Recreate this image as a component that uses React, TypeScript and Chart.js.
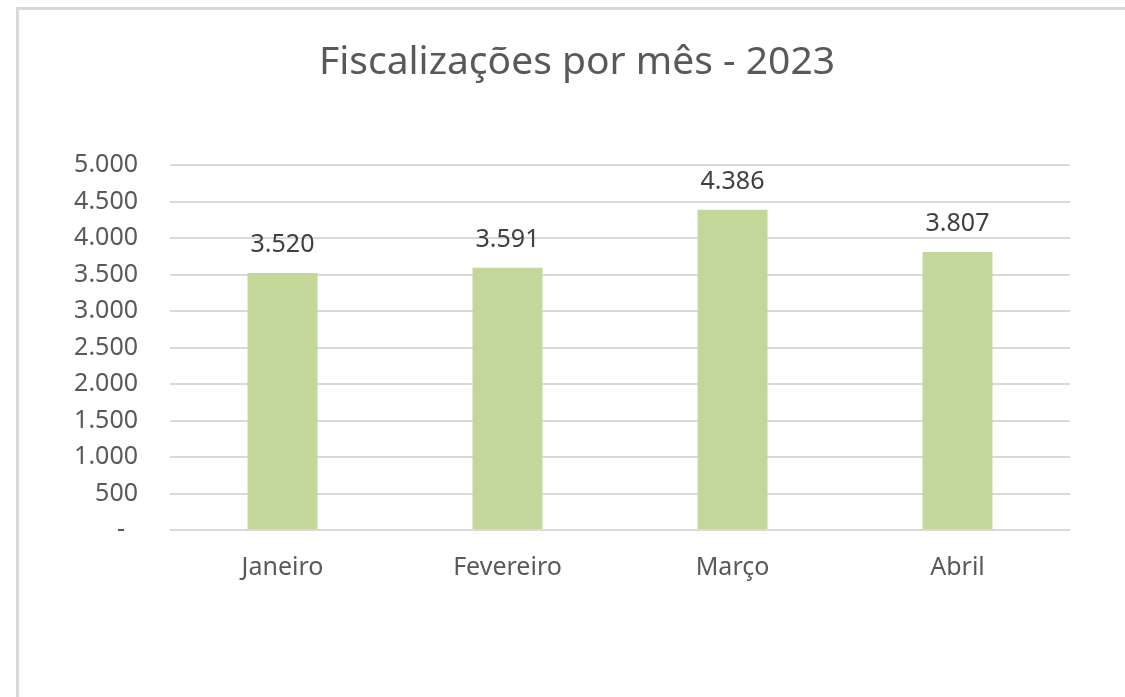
import React, { useEffect, useRef } from "react";
import { Chart, registerables } from "chart.js";

Chart.register(...registerables);

const categories = ["Janeiro", "Fevereiro", "Março", "Abril"];
const values = [3520, 3591, 4386, 3807];
const titleText = "Fiscalizações por mês - 2023";
const yTicks = [0, 500, 1000, 1500, 2000, 2500, 3000, 3500, 4000, 4500, 5000];

const FONT = "'Noto Sans', 'DejaVu Sans', sans-serif";

const fmtThousands = (v: number) => {
  if (v === 0) return "-  ";
  const s = String(Math.round(v));
  return s.replace(/\B(?=(\d{3})+(?!\d))/g, ".");
};

const dataLabelPlugin = {
  id: "dataLabels",
  afterDatasetsDraw(chart: any) {
    const { ctx } = chart;
    const meta = chart.getDatasetMeta(0);
    ctx.save();
    ctx.font = `25px ${FONT}`;
    ctx.fillStyle = "#404040";
    ctx.textAlign = "center";
    ctx.textBaseline = "alphabetic";
    meta.data.forEach((bar: any, i: number) => {
      const v = chart.data.datasets[0].data[i] as number;
      ctx.fillText(fmtThousands(v), bar.x, bar.y - 21);
    });
    ctx.restore();
  },
};

const chartTitlePlugin = {
  id: "chartTitle",
  afterDraw(chart: any) {
    const { ctx, width } = chart;
    ctx.save();
    ctx.font = `39px ${FONT}`;
    ctx.fillStyle = "#595959";
    ctx.textAlign = "center";
    ctx.textBaseline = "middle";
    ctx.fillText(titleText, width / 2 + 5, 53);
    ctx.restore();
  },
};

export default function App() {
  const ref = useRef<HTMLCanvasElement | null>(null);
  useEffect(() => {
    if (!ref.current) return;
    const chart = new Chart(ref.current, {
      type: "bar",
      data: {
        labels: categories,
        datasets: [
          {
            data: values,
            backgroundColor: "#c4d79b",
            borderWidth: 0,
            categoryPercentage: 1,
            barPercentage: 0.311,
          },
        ],
      },
      options: {
        animation: false,
        responsive: false,
        maintainAspectRatio: false,
        layout: { padding: { top: 155, right: 55, bottom: 0, left: 0 } },
        plugins: {
          legend: { display: false },
          tooltip: { enabled: false },
          title: { display: false },
        },
        scales: {
          x: {
            grid: { display: false, drawTicks: false },
            border: { display: false },
            ticks: {
              color: "#595959",
              font: { family: FONT, size: 25 },
              padding: 23,
            },
            afterFit: (s: any) => {
              s.height = 167;
            },
          },
          y: {
            min: 0,
            max: 5000,
            afterBuildTicks: (s: any) => {
              s.ticks = yTicks.map((v) => ({ value: v }));
            },
            grid: { color: "#d9d9d9", lineWidth: 2, drawTicks: false },
            border: { display: false },
            ticks: {
              color: "#595959",
              font: { family: FONT, size: 25 },
              padding: 32,
              callback: (v: any) => fmtThousands(Number(v)),
            },
            afterFit: (s: any) => {
              s.width = 151;
            },
          },
        },
      },
      plugins: [dataLabelPlugin, chartTitlePlugin],
    });
    return () => chart.destroy();
  }, []);

  return (
    <div
      style={{
        position: "fixed",
        left: 16,
        top: 7,
        width: 1109,
        height: 690,
        boxSizing: "border-box",
        borderTop: "3px solid #d9d9d9",
        borderLeft: "3px solid #d9d9d9",
        background: "#fff",
      }}
    >
      <canvas ref={ref} width={1106} height={687} style={{ display: "block" }} />
    </div>
  );
}
